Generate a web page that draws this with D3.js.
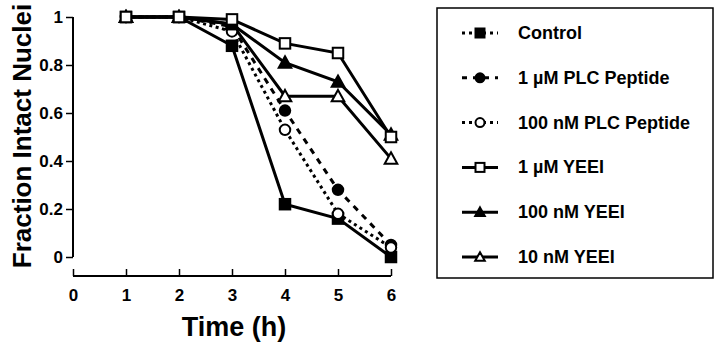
<!DOCTYPE html>
<html>
<head>
<meta charset="utf-8">
<script src="https://cdn.jsdelivr.net/npm/d3@7"></script>
<style>
  body { margin: 0; background: #fff; }
  text { font-family: "Liberation Sans", Arial, sans-serif; font-weight: bold; fill: #000; }
</style>
</head>
<body>
<svg id="chart" width="720" height="350"></svg>
<script>
// data
const times = [1, 2, 3, 4, 5, 6];
const control = [1, 1, 0.88, 0.22, 0.16, 0.0];
const plc1uM = [1, 1, 0.96, 0.61, 0.28, 0.05];
const plc100nM = [1, 1, 0.94, 0.53, 0.18, 0.04];
const yeei1uM = [1, 1, 0.99, 0.89, 0.85, 0.50];
const yeei100nM = [1, 1, 0.97, 0.81, 0.73, 0.51];
const yeei10nM = [1, 1, 0.97, 0.67, 0.67, 0.41];

const xTicks = [0, 1, 2, 3, 4, 5, 6];
const yTicks = [0, 0.2, 0.4, 0.6, 0.8, 1];

const seriesNames = ['Control', '1 \u00b5M PLC Peptide', '100 nM PLC Peptide', '1 \u00b5M YEEI', '100 nM YEEI', '10 nM YEEI'];
const seriesValues = [control, plc1uM, plc100nM, yeei1uM, yeei100nM, yeei10nM];
const seriesShapes = ['square', 'circle', 'circle', 'square', 'triangle', 'triangle'];
const seriesFilled = [true, true, false, false, true, false];
// line style in the plot and in the legend (control is drawn solid in the plot)
const plotDash = [null, '6,6', '3,3.5', null, null, null];
const legendDash = ['3,4', '5,6', '3,4', null, null, null];

const svg = d3.select('#chart');

const x = d3.scaleLinear().domain([0, 6]).range([73, 391]);
const y = d3.scaleLinear().domain([0, 1]).range([257, 17]);

// y axis
const yAxis = svg.append('g')
  .attr('transform', 'translate(73,0)')
  .call(d3.axisLeft(y).tickValues(yTicks).tickSize(7).tickPadding(3)
    .tickFormat(d => d === 0 ? '0' : d === 1 ? '1' : d3.format('.1f')(d)));
yAxis.select('.domain').attr('stroke', '#000').attr('stroke-width', 2).attr('d', 'M0,' + y(1) + 'V' + y(0));
yAxis.selectAll('.tick line').attr('stroke-width', 1.5);
yAxis.selectAll('.tick text').style('font-size', '17px');

// x axis (offset below the plot)
const xAxis = svg.append('g')
  .attr('transform', 'translate(0,276)')
  .call(d3.axisBottom(x).tickValues(xTicks).tickSize(-7).tickPadding(13).tickFormat(d3.format('d')));
xAxis.select('.domain').attr('stroke', '#000').attr('stroke-width', 2).attr('d', 'M' + x(0) + ',0H' + x(6));
xAxis.selectAll('.tick line').attr('stroke-width', 1.5);
xAxis.selectAll('.tick text').style('font-size', '17px');

// axis titles
svg.append('text')
  .attr('x', 234).attr('y', 336)
  .attr('text-anchor', 'middle')
  .style('font-size', '27px')
  .text('Time (h)');

svg.append('text')
  .attr('transform', 'translate(31,136) rotate(-90)')
  .attr('text-anchor', 'middle')
  .style('font-size', '26px')
  .text('Fraction Intact Nuclei');

// marker drawing helper
function drawMarker(g, shape, filled, cx, cy, k) {
  const fill = filled ? '#000' : '#fff';
  if (shape === 'square') {
    const h = 5 * k;
    g.append('rect').attr('x', cx - h).attr('y', cy - h).attr('width', 2 * h).attr('height', 2 * h)
      .attr('fill', fill).attr('stroke', '#000').attr('stroke-width', 2);
  } else if (shape === 'circle') {
    g.append('circle').attr('cx', cx).attr('cy', cy).attr('r', 5 * k)
      .attr('fill', fill).attr('stroke', '#000').attr('stroke-width', 2);
  } else {
    const h = 6 * k;
    g.append('path')
      .attr('d', `M${cx},${cy - h}L${cx + h},${cy + h * 0.8}L${cx - h},${cy + h * 0.8}Z`)
      .attr('fill', fill).attr('stroke', '#000').attr('stroke-width', 2);
  }
}

const line = d3.line().x((d, i) => x(times[i])).y(d => y(d));

const plot = svg.append('g');

// lines first, then markers on top
seriesValues.forEach((vals, s) => {
  plot.append('path')
    .datum(vals)
    .attr('d', line)
    .attr('fill', 'none')
    .attr('stroke', '#000')
    .attr('stroke-width', 3)
    .attr('stroke-dasharray', plotDash[s]);
});

[0, 1, 2, 5, 4, 3].forEach(s => {
  seriesValues[s].forEach((v, i) => {
    drawMarker(plot, seriesShapes[s], seriesFilled[s], x(times[i]), y(v), 1.05);
  });
});

// legend
const legend = svg.append('g');
legend.append('rect')
  .attr('x', 437).attr('y', 8).attr('width', 276).attr('height', 270)
  .attr('fill', 'none').attr('stroke', '#000').attr('stroke-width', 1.5);

const legendY = d3.scalePoint().domain(seriesNames).range([33, 257]);

seriesNames.forEach((name, s) => {
  const ly = legendY(name);
  legend.append('line')
    .attr('x1', 462).attr('x2', 498).attr('y1', ly).attr('y2', ly)
    .attr('stroke', '#000').attr('stroke-width', 3)
    .attr('stroke-dasharray', legendDash[s]);
  drawMarker(legend, seriesShapes[s], seriesFilled[s], 480, ly, seriesShapes[s] === 'triangle' ? 0.8 : 0.9);
  legend.append('text')
    .attr('x', 518).attr('y', ly + 6)
    .style('font-size', '18px')
    .text(name);
});
</script>
</body>
</html>
